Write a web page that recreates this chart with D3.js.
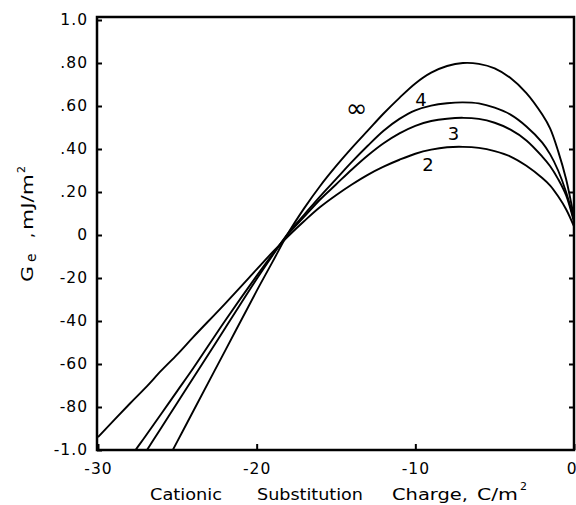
<!DOCTYPE html>
<html>
<head>
<meta charset="utf-8">
<script src="https://cdn.jsdelivr.net/npm/d3@7"></script>
<style>
  body { margin: 0; background: #fff; }
  svg { display: block; }
  text { font-family: "DejaVu Sans", sans-serif; fill: #000; }
</style>
</head>
<body>
<div id="chart"></div>
<script>
// charge (x) grid shared by all curves
const chargeX = [-30, -28, -27, -26, -25, -24, -22, -20, -19, -18, -17, -16, -15, -14, -13,
                 -12, -11, -10, -9, -8, -7, -6, -5, -4, -3, -2, -1.5, -1, -0.5, 0];

// Ge values, one array per curve
const ge2 = [-0.94, -0.785, -0.71, -0.63, -0.555, -0.475, -0.32, -0.16, -0.08, -0.005, 0.065, 0.13, 0.185, 0.235, 0.28,
             0.318, 0.35, 0.378, 0.397, 0.408, 0.41, 0.405, 0.39, 0.365, 0.322, 0.265, 0.23, 0.18, 0.12, 0.04];
const ge3 = [-1.29, -1.04, -0.935, -0.83, -0.725, -0.62, -0.40, -0.19, -0.09, 0.005, 0.085, 0.165, 0.235, 0.305, 0.37,
             0.427, 0.473, 0.508, 0.53, 0.541, 0.545, 0.54, 0.522, 0.49, 0.44, 0.365, 0.32, 0.26, 0.185, 0.06];
const ge4 = [-1.47, -1.125, -1.01, -0.895, -0.78, -0.665, -0.435, -0.205, -0.095, 0.01, 0.095, 0.18, 0.26, 0.34, 0.415,
             0.485, 0.54, 0.58, 0.602, 0.613, 0.617, 0.612, 0.592, 0.56, 0.505, 0.43, 0.375, 0.30, 0.20, 0.07];
const geInf = [-1.66, -1.38, -1.24, -1.10, -0.96, -0.82, -0.54, -0.26, -0.125, 0.01, 0.125, 0.228, 0.32, 0.405, 0.485,
               0.565, 0.638, 0.705, 0.755, 0.786, 0.80, 0.796, 0.775, 0.73, 0.66, 0.56, 0.495, 0.39, 0.26, 0.08];

const curveNames = ["2", "3", "4", "∞"];
const curveLabelX = [-9.2, -7.6, -9.65, -13.7];
const curveLabelY = [0.326, 0.47, 0.628, 0.586];

const xTicks = [-30, -20, -10, 0];
const xTickLabels = ["-30", "-20", "-10", "0"];
const yTicks = [1, 0.8, 0.6, 0.4, 0.2, 0, -0.2, -0.4, -0.6, -0.8, -1];
const yTickLabels = ["1.0", ".80", ".60", ".40", ".20", "0", "-20", "-40", "-60", "-80", "-1.0"];

window.onload = function () {
    const w = 576;
    const h = 505;
    const left = 97, right = 574, top = 17, bottom = 450;

    const xScale = d3.scaleLinear().domain([-30, 0]).range([98, 574]);
    const yScale = d3.scaleLinear().domain([-1, 1]).range([450, 20]);

    const svg = d3.select("#chart")
        .append("svg")
        .attr("width", w)
        .attr("height", h);

    svg.append("rect").attr("width", w).attr("height", h).attr("fill", "#fff");

    svg.append("clipPath").attr("id", "plot")
        .append("rect")
        .attr("x", left).attr("y", top)
        .attr("width", 580 - left).attr("height", bottom - top);

    // curves
    const line = d3.line()
        .x((d, i) => xScale(chargeX[i]))
        .y(d => yScale(d))
        .curve(d3.curveCatmullRom.alpha(0.5));

    svg.append("g")
        .attr("clip-path", "url(#plot)")
        .selectAll("path")
        .data([ge2, ge3, ge4, geInf])
        .enter()
        .append("path")
        .attr("d", line)
        .attr("fill", "none")
        .attr("stroke", "#000")
        .attr("stroke-width", 1.9);

    // curve labels
    svg.selectAll("text.curve")
        .data(curveNames)
        .enter()
        .append("text")
        .attr("class", "curve")
        .attr("x", (d, i) => xScale(curveLabelX[i]))
        .attr("y", (d, i) => yScale(curveLabelY[i]))
        .attr("dy", d => d === "∞" ? "0.3em" : "0.36em")
        .attr("text-anchor", "middle")
        .attr("font-size", d => d === "∞" ? "26px" : "18px")
        .text(d => d);

    // axes, ticks pointing inward
    const tickStyle = g => {
        g.select(".domain").remove();
        g.selectAll(".tick line").attr("stroke", "#000").attr("stroke-width", 2);
        g.selectAll(".tick text")
            .attr("font-family", "DejaVu Sans, sans-serif")
            .attr("font-size", "15.5px")
            .attr("letter-spacing", "1px")
            .attr("fill", "#000");
    };

    svg.append("g")
        .attr("transform", `translate(${left},0)`)
        .call(d3.axisLeft(yScale).tickValues(yTicks)
            .tickFormat((d, i) => yTickLabels[i])
            .tickSizeInner(-5).tickSizeOuter(0).tickPadding(9))
        .call(tickStyle);

    svg.append("g")
        .attr("transform", `translate(${right},0)`)
        .call(d3.axisRight(yScale).tickValues(yTicks.slice(1, -1))
            .tickFormat("").tickSizeInner(-5).tickSizeOuter(0))
        .call(tickStyle);

    svg.append("g")
        .attr("transform", `translate(0,${bottom})`)
        .call(d3.axisBottom(xScale).tickValues(xTicks)
            .tickFormat((d, i) => xTickLabels[i])
            .tickSizeInner(-6).tickSizeOuter(0).tickPadding(13))
        .call(tickStyle)
        .call(g => g.selectAll(".tick text")
            .filter(d => d === 0)
            .attr("text-anchor", "end")
            .attr("letter-spacing", "0px")
            .attr("dx", 2));

    // frame
    svg.append("rect")
        .attr("x", left).attr("y", top)
        .attr("width", right - left).attr("height", bottom - top)
        .attr("fill", "none")
        .attr("stroke", "#000")
        .attr("stroke-width", 2.5);

    // x title
    const xt = svg.append("text")
        .attr("y", 500)
        .attr("font-size", "15px");
    xt.append("tspan").attr("x", 150).attr("textLength", 72).attr("lengthAdjust", "spacingAndGlyphs").text("Cationic");
    xt.append("tspan").attr("x", 257).attr("textLength", 106).attr("lengthAdjust", "spacingAndGlyphs").text("Substitution");
    xt.append("tspan").attr("x", 392).attr("textLength", 76).attr("lengthAdjust", "spacingAndGlyphs").text("Charge,");
    xt.append("tspan").attr("x", 477).attr("textLength", 41).attr("lengthAdjust", "spacingAndGlyphs").text("C/m");
    xt.append("tspan").attr("x", 520).attr("dy", -10).attr("font-size", "11px").text("2");

    // y title
    const yt = svg.append("text")
        .attr("transform", "translate(33,282) rotate(-90)")
        .attr("font-size", "16px");
    yt.append("tspan").attr("x", 0).attr("textLength", 16).attr("lengthAdjust", "spacingAndGlyphs").text("G");
    yt.append("tspan").attr("x", 20).attr("dy", 3).attr("font-size", "14px").text("e");
    yt.append("tspan").attr("x", 44).attr("dy", -3).text(",");
    yt.append("tspan").attr("x", 52).attr("textLength", 56).attr("lengthAdjust", "spacingAndGlyphs").text("mJ/m");
    yt.append("tspan").attr("x", 109).attr("dy", -8).attr("font-size", "11px").text("2");
};
</script>
</body>
</html>
